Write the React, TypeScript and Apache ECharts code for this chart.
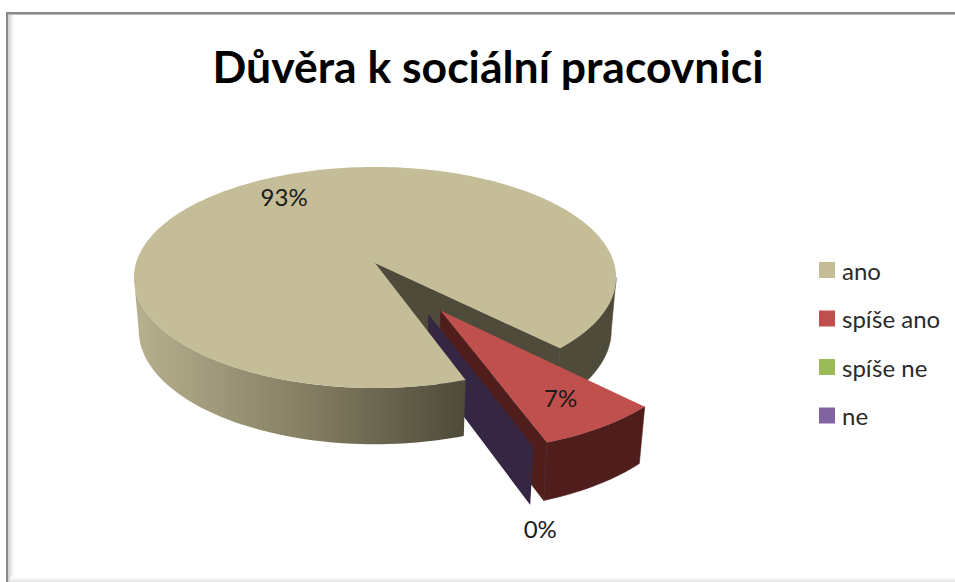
import React, { useEffect, useRef } from "react";
import * as echarts from "echarts";

const categories = ["ano", "spíše ano", "spíše ne", "ne"];
const shares = [93, 7, 0, 0];
const labels = ["93%", "7%", null, "0%"];

const topColors = ["#c4bd97", "#c0504d", "#9bbb59", "#8064a2"];
const wallColors = ["#4f4b3a", "#4f1e1c", "#3e4b24", "#352744"];

// Pie placement on the page: a tilted disc seen in perspective.
const CX = 375;
const CY = 263;
const RX = 239;
const RY = 108.6;
const PERSP = 0.131;
const THICK = 52.5;
const SHRINK = 0.02;
const START_ANGLE = 160.6;
const EXPLODE = [0, 0.49, 0.49, 0.49];
const EXPLODE_TURN = [0, 0, 0, -6];
const SILHOUETTE = (Math.acos(-PERSP) * 180) / Math.PI;

const rad = (d: number) => (d * Math.PI) / 180;
const total = shares.reduce((a, b) => a + b, 0);

// Clockwise angular span of each slice, in degrees from twelve o'clock.
const spans = shares.reduce<{ from: number; to: number }[]>((acc, share) => {
  const from = acc.length ? acc[acc.length - 1].to : START_ANGLE;
  acc.push({ from, to: from + (share / total) * 360 });
  return acc;
}, []);

function sliceOrigin(i: number) {
  const mid = (spans[i].from + spans[i].to) / 2 + EXPLODE_TURN[i];
  return { u: EXPLODE[i] * Math.sin(rad(mid)), v: -EXPLODE[i] * Math.cos(rad(mid)) };
}

function project(u: number, v: number, level: number): [number, number] {
  const s = 1 / (1 - PERSP * v);
  return [CX + RX * u * s * (1 - SHRINK * level), CY + RY * v * s + THICK * level * Math.sqrt(s)];
}

function onRim(i: number, angle: number, level: number, r = 1) {
  const o = sliceOrigin(i);
  return project(o.u + r * Math.sin(rad(angle)), o.v - r * Math.cos(rad(angle)), level);
}

function arcPoints(i: number, from: number, to: number, level: number) {
  const n = Math.max(2, Math.ceil(Math.abs(to - from) / 1.5));
  const pts: [number, number][] = [];
  for (let k = 0; k <= n; k++) pts.push(onRim(i, from + ((to - from) * k) / n, level));
  return pts;
}

function topFace(i: number) {
  const o = sliceOrigin(i);
  return [project(o.u, o.v, 0), ...arcPoints(i, spans[i].from, spans[i].to, 0)];
}

function rimWall(i: number, from: number, to: number) {
  return [...arcPoints(i, from, to, 0), ...arcPoints(i, to, from, 1)];
}

function cutWall(i: number, angle: number) {
  const o = sliceOrigin(i);
  return [
    project(o.u, o.v, 0),
    onRim(i, angle, 0),
    onRim(i, angle, 1),
    project(o.u, o.v, 1),
  ];
}

const poly = (points: [number, number][], fill: any, z2: number, seam = false) => ({
  type: "polygon",
  z2,
  shape: { points },
  style: seam ? { fill, stroke: fill, lineWidth: 0.6 } : { fill, stroke: "none" },
});

const caption = (text: string, pos: [number, number], z2: number) => ({
  type: "text",
  z2,
  x: pos[0],
  y: pos[1],
  style: {
    text,
    fill: "#1a1a1a",
    font: "24px Lato",
    align: "center",
    verticalAlign: "middle",
  },
});

// Shaded front of the large slice, darkening from left to right.
const frontShade = new echarts.graphic.LinearGradient(
  CX - RX,
  0,
  CX + 88,
  0,
  [
    { offset: 0, color: "#b7b08f" },
    { offset: 0.5, color: "#868064" },
    { offset: 1, color: "#4f4b3a" },
  ],
  true,
);

function renderSlice(i: number) {
  return () => {
    const { from, to } = spans[i];
    const children: any[] = [];
    if (i === 0) {
      // Back layer: faces seen through the gap; front layer: top and near rim.
      const end = to - 360;
      children.push(poly(cutWall(0, end), wallColors[0], 1, true));
      children.push(poly(rimWall(0, SILHOUETTE, end), wallColors[0], 1, true));
      children.push(poly(rimWall(0, from, 360 - SILHOUETTE), frontShade, 8));
      children.push(poly(topFace(0), topColors[0], 9));
      children.push(caption(labels[0] as string, onRim(0, (from + to) / 2, 0, 0.78), 10));
    } else if (shares[i] > 0) {
      children.push(poly(cutWall(i, to), wallColors[i], 3, true));
      children.push(poly(rimWall(i, from, to), wallColors[i], 3, true));
      children.push(poly(topFace(i), topColors[i], 4));
      children.push(caption(labels[i] as string, onRim(i, (from + to) / 2, 0, 0.77), 10));
    } else if (labels[i]) {
      // An empty slice is only its cut face; neighbouring empty slices share it.
      const tip = onRim(i, from, 1);
      children.push(poly(cutWall(i, from), wallColors[i], 5));
      children.push(caption(labels[i] as string, [tip[0] + 10, tip[1] + 24], 10));
    }
    return { type: "group", children };
  };
}

const option: any = {
  animation: false,
  backgroundColor: "#ffffff",
  title: {
    text: "Důvěra k sociální pracovnici",
    left: 483,
    top: 38,
    textAlign: "center",
    textStyle: { fontFamily: "Lato", fontWeight: "bold", fontSize: 44.5, color: "#000000" },
  },
  legend: {
    orient: "vertical",
    left: 819,
    top: 258,
    padding: 0,
    itemWidth: 16,
    itemHeight: 16,
    itemGap: 24.5,
    icon: "rect",
    selectedMode: false,
    data: categories,
    textStyle: { fontFamily: "Lato", fontSize: 24, color: "#2a2a2a", padding: [0, 0, 0, 2] },
  },
  graphic: [
    // Picture frame: hard top and left rules, soft inner shading.
    { type: "rect", z: 0, shape: { x: 6, y: 12, width: 949, height: 2 }, style: { fill: "#8a8a8a" } },
    { type: "rect", z: 0, shape: { x: 6, y: 12, width: 2, height: 570 }, style: { fill: "#8a8a8a" } },
    { type: "rect", z: 0, shape: { x: 8, y: 14, width: 947, height: 1 }, style: { fill: "#b5b5b5" } },
    {
      type: "rect",
      z: 0,
      shape: { x: 8, y: 15, width: 6, height: 567 },
      style: {
        fill: new echarts.graphic.LinearGradient(0, 0, 1, 0, [
          { offset: 0, color: "#cfcfcf" },
          { offset: 1, color: "#ffffff" },
        ]),
      },
    },
    {
      type: "rect",
      z: 0,
      shape: { x: 10, y: 577, width: 945, height: 5 },
      style: {
        fill: new echarts.graphic.LinearGradient(0, 0, 0, 1, [
          { offset: 0, color: "#ffffff" },
          { offset: 1, color: "#e4e4e4" },
        ]),
      },
    },
  ],
  series: categories.map((name, i) => ({
    type: "custom",
    name,
    coordinateSystem: "none",
    itemStyle: { color: topColors[i] },
    data: [shares[i]],
    silent: true,
    renderItem: renderSlice(i),
  })),
};

export default function App() {
  const ref = useRef<HTMLDivElement>(null);
  useEffect(() => {
    document.body.style.margin = "0";
    const chart = echarts.init(ref.current as HTMLDivElement, undefined, { renderer: "svg" });
    chart.setOption(option);
    return () => chart.dispose();
  }, []);
  return <div ref={ref} style={{ width: 955, height: 582 }} />;
}
